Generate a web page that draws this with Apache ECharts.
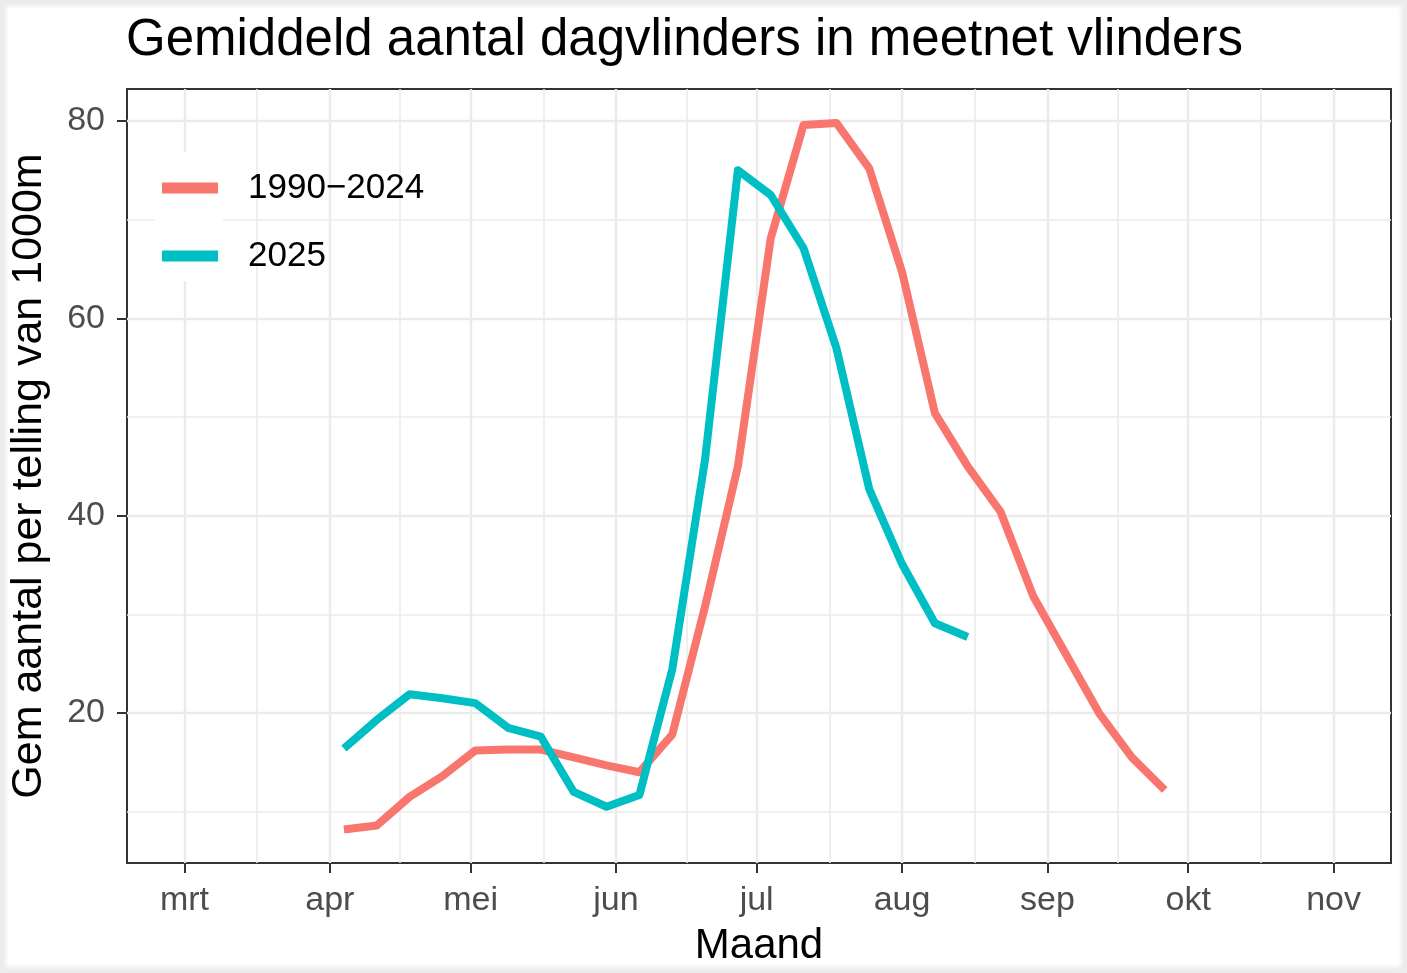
<!DOCTYPE html>
<html>
<head>
<meta charset="utf-8">
<script src="https://cdn.jsdelivr.net/npm/echarts@6/dist/echarts.min.js"></script>
<style>
html,body{margin:0;padding:0;background:#fff;}
#chart{width:1407px;height:973px;position:relative;}
#frame{position:absolute;left:0;top:0;width:1407px;height:973px;box-sizing:border-box;border:4px solid #ececec;box-shadow:inset 0 0 4px 2px rgba(0,0,0,0.08);pointer-events:none;}
</style>
</head>
<body>
<div id="chart"></div>
<div id="frame"></div>
<script>
// ---- data ----
var titleText = 'Gemiddeld aantal dagvlinders in meetnet vlinders';
var xTitle = 'Maand';
var yTitle = 'Gem aantal per telling van 1000m';
var seriesNames = ['1990\u22122024', '2025'];
var weekDates = ['2025-04-04','2025-04-11','2025-04-18','2025-04-25','2025-05-02','2025-05-09','2025-05-16','2025-05-23','2025-05-30',
  '2025-06-06','2025-06-13','2025-06-20','2025-06-27','2025-07-04','2025-07-11','2025-07-18','2025-07-25',
  '2025-08-01','2025-08-08','2025-08-15','2025-08-22','2025-08-29','2025-09-05','2025-09-12','2025-09-19','2025-09-26'];
var valuesHist = [8.2, 8.6, 11.5, 13.6, 16.2, 16.3, 16.3, 15.5, 14.7, 14.0, 17.8, 30.8, 45.0, 68.1, 79.6, 79.8, 75.2, 64.7, 50.4, 45.0, 40.4, 31.8, 25.9, 20.0, 15.5, 12.2];
var values2025 = [16.4, 19.3, 21.9, 21.5, 21.0, 18.5, 17.6, 12.0, 10.5, 11.7, 24.4, 45.7, 75.0, 72.5, 67.1, 57.0, 42.7, 35.1, 29.1, 27.7];
var monthTicks = ['2025-03-01','2025-04-01','2025-05-01','2025-06-01','2025-07-01','2025-08-01','2025-09-01','2025-10-01','2025-11-01'];
var monthLabels = ['mrt','apr','mei','jun','jul','aug','sep','okt','nov'];
var yTicks = [20, 40, 60, 80];
var yMinor = [10, 30, 50, 70];

// ---- helpers ----
function ts(s){ var p = s.split('-'); return Date.UTC(+p[0], +p[1]-1, +p[2]); }
var monthTs = monthTicks.map(ts);
var minorTs = [];
for (var i = 0; i < monthTs.length - 1; i++) minorTs.push((monthTs[i] + monthTs[i+1]) / 2);
var xMin = Date.UTC(2025, 1, 16, 18);
var xMax = Date.UTC(2025, 10, 13, 6);

var FONT = 'Liberation Sans, Arial, sans-serif';
var gridMajor = '#ebebeb';

function vLines(arr, w){ return arr.map(function(v){ return {xAxis: v, lineStyle:{width:w}}; }); }
function hLines(arr, w){ return arr.map(function(v){ return {yAxis: v, lineStyle:{width:w}}; }); }

var chart = echarts.init(document.getElementById('chart'), null, {renderer:'canvas'});
chart.setOption({
  backgroundColor: '#ffffff',
  animation: false,
  title: {
    text: titleText, left: 121, top: 10,
    textStyle: {fontFamily: FONT, fontSize: 51, fontWeight: 'normal', color: '#000'}
  },
  grid: {left: 126, top: 89, width: 1265, height: 774, show: true, borderColor: '#333', borderWidth: 2, backgroundColor: 'transparent', z: 3},
  legend: {
    orient: 'vertical', left: 162, top: 170, padding: 0, itemWidth: 56, itemHeight: 11, itemGap: 32,
    icon: 'rect', z: 20,
    textStyle: {fontFamily: FONT, fontSize: 35, color: '#000', lineHeight: 36, padding: [0,0,0,25]},
    data: seriesNames
  },
  graphic: [
    {type:'rect', z: 15, shape:{x:155, y:152, width:68, height:67}, style:{fill:'#fff'}},
    {type:'rect', z: 15, shape:{x:155, y:219, width:68, height:62}, style:{fill:'#fff'}}
  ],
  xAxis: {
    type: 'value', min: xMin, max: xMax,
    name: xTitle, nameLocation: 'middle', nameGap: 62,
    nameTextStyle: {fontFamily: FONT, fontSize: 42, color: '#000'},
    axisLine: {show: false},
    axisTick: {show: true, length: 10, lineStyle: {color: '#333', width: 2}, customValues: monthTs},
    axisLabel: {customValues: monthTs, margin: 21, fontFamily: FONT, fontSize: 34, color: '#4d4d4d',
      formatter: function(v){ var i = monthTs.indexOf(v); return i >= 0 ? monthLabels[i] : ''; }},
    splitLine: {show: false}
  },
  yAxis: {
    type: 'value', min: 4.8, max: 83.24,
    name: yTitle, nameLocation: 'middle', nameGap: 76,
    nameTextStyle: {fontFamily: FONT, fontSize: 43, color: '#000'},
    axisLine: {show: false},
    axisTick: {show: true, length: 10, lineStyle: {color: '#333', width: 2}, customValues: yTicks},
    axisLabel: {customValues: yTicks, margin: 22, fontFamily: FONT, fontSize: 34, color: '#4d4d4d'},
    splitLine: {show: false}
  },
  series: [
    {
      name: 'gridlines', type: 'line', data: [], z: 1, silent: true,
      markLine: {
        silent: true, symbol: ['none','none'], label: {show: false}, animation: false,
        lineStyle: {color: gridMajor, type: 'solid'},
        data: [].concat(vLines(minorTs, 1.6), hLines(yMinor, 1.6), vLines(monthTs, 2.4), hLines(yTicks, 2.4))
      }
    },
    {
      name: seriesNames[0], type: 'line', z: 5, symbol: 'none',
      lineStyle: {color: '#F8766D', width: 8, cap: 'butt', join: 'round'},
      itemStyle: {color: '#F8766D'},
      data: weekDates.map(function(d, i){ return [ts(d), valuesHist[i]]; })
    },
    {
      name: seriesNames[1], type: 'line', z: 6, symbol: 'none',
      lineStyle: {color: '#00BFC4', width: 8, cap: 'butt', join: 'round'},
      itemStyle: {color: '#00BFC4'},
      data: values2025.map(function(v, i){ return [ts(weekDates[i]), v]; })
    }
  ]
});
</script>
</body>
</html>
